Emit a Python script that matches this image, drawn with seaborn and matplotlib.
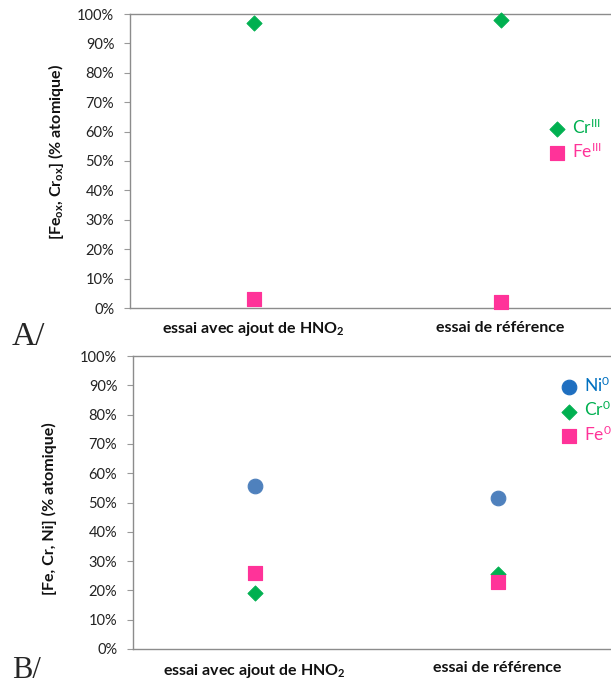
import pandas as pd
import matplotlib.pyplot as plt
import seaborn as sns

# data
essais = ['essai avec ajout de HNO$_\\mathbf{2}$', 'essai de référence']
cr_ox = [97, 98]
fe_ox = [3, 2]
ni_met = [55.5, 51.5]
cr_met = [19, 25.5]
fe_met = [26, 23]
yticks = list(range(0, 101, 10))

green = '#00B050'
pink = '#FF3399'
blue = '#4F81BD'
blue_txt = '#0070C0'

sns.set_style('white')
plt.rcParams['font.family'] = ['Lato', 'DejaVu Sans']
plt.rcParams['mathtext.fontset'] = 'custom'
plt.rcParams['mathtext.rm'] = 'Lato'
plt.rcParams['mathtext.it'] = 'Lato'
plt.rcParams['mathtext.bf'] = 'Lato:bold'

W, H = 611, 687
fig = plt.figure(figsize=(W / 100, H / 100), dpi=100)
# axes boxes from pixel edges (left, top, bottom)
axA = fig.add_axes([130 / W, (H - 308) / H, 1 - 130 / W, (308 - 14) / H])
axB = fig.add_axes([133 / W, (H - 649) / H, 1 - 133 / W, (649 - 356) / H])


def style_axis(ax, xmax, ylabel, ylab_x):
    ax.set_ylim(0, 100)
    ax.set_xlim(-0.5, xmax)
    ax.set_yticks(yticks)
    ax.set_yticklabels([f'{t}%' for t in yticks], fontsize=10.5, color='#222222')
    ax.set_xticks([0, 1])
    ax.set_xticklabels(essais, fontsize=11.5, fontweight='bold', color='#111111')
    ax.tick_params(axis='y', length=4.3, width=0.8, color='#999999', left=True, pad=7)
    ax.tick_params(axis='x', length=0, pad=9)
    for s in ['left', 'bottom', 'top']:
        ax.spines[s].set_color('#8c8c8c')
        ax.spines[s].set_linewidth(1)
    ax.spines['right'].set_visible(False)
    ax.set_ylabel(ylabel, fontsize=11.5, fontweight='bold', color='#111111')
    ax.yaxis.set_label_coords(ylab_x, 0.48)
    ax.set_xlabel('')
    ax.grid(False)


# panel A
dfA = pd.DataFrame({'essai': essais, 'cr': cr_ox, 'fe': fe_ox})
sns.scatterplot(data=dfA, x='essai', y='cr', ax=axA, marker='D', s=60, color=green,
                edgecolor=green, label='Cr$^{\\mathrm{III}}$', zorder=3, clip_on=False)
sns.scatterplot(data=dfA, x='essai', y='fe', ax=axA, marker='s', s=110, color=pink,
                edgecolor=pink, label='Fe$^{\\mathrm{III}}$', zorder=3, clip_on=False)
style_axis(axA, 1.447, '[Fe$_{\\mathbf{ox}}$, Cr$_{\\mathbf{ox}}$] (% atomique)', -0.133)
axA.yaxis.set_label_coords(-0.133, 0.53)
legA = axA.legend(loc='center left', bbox_to_anchor=(541 / W, (H - 139) / H),
                  bbox_transform=fig.transFigure, frameon=False, fontsize=12.5,
                  handlelength=1, handletextpad=0.4, labelspacing=0.25, borderaxespad=0)
for t, c in zip(legA.get_texts(), [green, pink]):
    t.set_color(c)

# panel B
dfB = pd.DataFrame({'essai': essais, 'ni': ni_met, 'cr': cr_met, 'fe': fe_met})
sns.scatterplot(data=dfB, x='essai', y='ni', ax=axB, marker='o', s=110, color=blue,
                edgecolor=blue, label='Ni$^{0}$', zorder=3)
sns.scatterplot(data=dfB, x='essai', y='cr', ax=axB, marker='D', s=60, color=green,
                edgecolor=green, label='Cr$^{0}$', zorder=3)
sns.scatterplot(data=dfB, x='essai', y='fe', ax=axB, marker='s', s=110, color=pink,
                edgecolor=pink, label='Fe$^{0}$', zorder=4)
style_axis(axB, 1.467, '[Fe, Cr, Ni] (% atomique)', -0.158)
legB = axB.legend(loc='center left', bbox_to_anchor=(553 / W, (H - 409.5) / H),
                  bbox_transform=fig.transFigure, frameon=False, fontsize=12.5,
                  handlelength=1, handletextpad=0.4, labelspacing=0.3, borderaxespad=0)
for t, c in zip(legB.get_texts(), [blue_txt, green, pink]):
    t.set_color(c)
legB.legend_handles[0].set_color('#1F6FC0')

# panel letters
fig.text(12 / W, (H - 337) / H, 'A/', fontsize=24, family='Liberation Serif', va='center')
fig.text(12 / W, (H - 670) / H, 'B/', fontsize=22, family='Liberation Serif', va='center')

plt.savefig('out.png', dpi=100)
